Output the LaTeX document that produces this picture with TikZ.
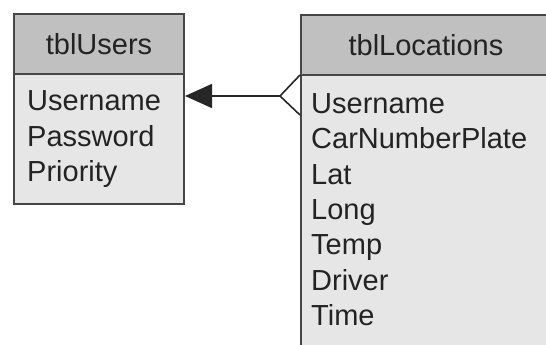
\documentclass[tikz,border=0pt]{standalone}
\usepackage{fontspec}
\setmainfont{Liberation Sans}
\usetikzlibrary{arrows.meta,positioning}
\definecolor{headgray}{RGB}{192,192,192}
\definecolor{bodygray}{RGB}{230,230,230}
\definecolor{edgegray}{RGB}{70,70,70}
\definecolor{textgray}{RGB}{35,35,35}
\tikzset{
  tblhead/.style={draw=edgegray, line width=2pt, fill=headgray, anchor=north west,
    inner sep=0pt, text height=21pt, text depth=0pt,
    font=\fontsize{29}{35.5}\selectfont, text=textgray},
  tblbody/.style={draw=edgegray, line width=2pt, fill=bodygray, anchor=north west, inner sep=0pt},
  field/.style={anchor=west, inner sep=0pt, text height=21pt, text depth=0pt,
    font=\fontsize{29}{35.5}\selectfont, text=textgray},
  rel/.style={line width=1.6pt, draw=black!85}
}
\begin{document}
\begin{tikzpicture}[x=1pt,y=-1pt]
\clip (0,0) rectangle (546,345);

% tblUsers
\node[tblbody, minimum width=170pt, minimum height=130pt] (usersbody) at (13,73) {};
\node[tblhead, minimum width=170pt, minimum height=60pt] (users) at (13,13) {tblUsers};
\foreach \f [count=\i] in {Username,Password,Priority}
  \node[field] (users-\i) at (27,{100+35.5*(\i-1)}) {\f};

% tblLocations
\node[tblbody, minimum width=250pt, minimum height=300pt] (locbody) at (300,74) {};
\node[tblhead, minimum width=250pt, minimum height=60pt] (locs) at (300,14) {tblLocations};
\foreach \f [count=\i] in {Username,CarNumberPlate,Lat,Long,Temp,Driver,Time}
  \node[field] (locs-\i) at (311,{103+35.33*(\i-1)}) {\f};

% relation
\coordinate (fork) at (280,96);
\draw[rel, -{Triangle[length=27pt,width=24pt]}] (fork) -- (usersbody.east |- fork);
\draw[rel] (locbody.west |- 0,75) -- (fork) -- (locbody.west |- 0,115);

\end{tikzpicture}
\end{document}
